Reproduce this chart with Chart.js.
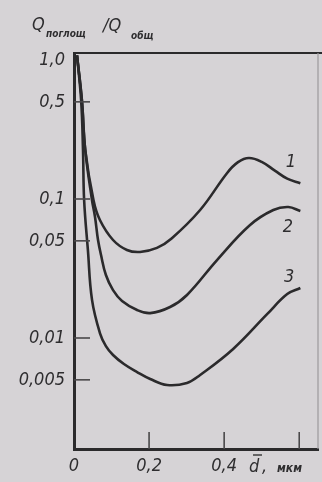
<!DOCTYPE html>
<html>
<head>
<meta charset="utf-8">
<script src="https://cdn.jsdelivr.net/npm/chart.js@4"></script>
<style>
  html, body { margin: 0; padding: 0; background: #d6d3d6; }
  #wrap { width: 322px; height: 482px; }
</style>
</head>
<body>
<div id="wrap"><canvas id="chart" width="322" height="482"></canvas></div>
<script>
// values (d in um, Q ratio on log axis)
const xTickValues = [0, 0.2, 0.4, 0.6];
const xTickLabels = ['0', '0,2', '0,4', ''];
const yTickValues = [0.005, 0.01, 0.05, 0.1, 0.5, 1.0];
const yTickLabels = ['0,005', '0,01', '0,05', '0,1', '0,5', '1,0'];

const curve1X = [0.008, 0.021, 0.03, 0.052, 0.069, 0.104, 0.141, 0.176, 0.221, 0.26, 0.336, 0.408, 0.437, 0.466, 0.50, 0.535, 0.568, 0.603];
const curve1Y = [1.08, 0.515, 0.225, 0.098, 0.0706, 0.0507, 0.043, 0.0416, 0.0445, 0.052, 0.0833, 0.154, 0.184, 0.197, 0.185, 0.160, 0.140, 0.130];

const curve2X = [0.008, 0.021, 0.03, 0.048, 0.056, 0.064, 0.072, 0.085, 0.104, 0.128, 0.168, 0.203, 0.256, 0.301, 0.381, 0.469, 0.531, 0.571, 0.603];
const curve2Y = [1.08, 0.515, 0.225, 0.098, 0.0743, 0.0507, 0.0395, 0.0284, 0.0221, 0.01845, 0.0159, 0.0151, 0.0167, 0.0204, 0.0364, 0.065, 0.0833, 0.0875, 0.082];

const curve3X = [0.008, 0.019, 0.024, 0.027, 0.037, 0.048, 0.069, 0.085, 0.104, 0.133, 0.168, 0.203, 0.248, 0.301, 0.336, 0.424, 0.515, 0.568, 0.603];
const curve3Y = [1.08, 0.515, 0.225, 0.098, 0.043, 0.0188, 0.01086, 0.00875, 0.00755, 0.0065, 0.00569, 0.00507, 0.00459, 0.00475, 0.00542, 0.00834, 0.0149, 0.0207, 0.0229];

const curveNames = ['1', '2', '3'];
const curveLabelX = [0.578, 0.570, 0.573];
const curveLabelY = [0.1845, 0.063, 0.0275];

const ink = '#2b2a2c';
const font = "'DejaVu Sans Condensed', 'DejaVu Sans', sans-serif";

const pts = (xs, ys) => xs.map((x, i) => ({ x: x, y: ys[i] }));
const line = (xs, ys) => ({
  data: pts(xs, ys), borderColor: ink, borderWidth: 2.6, pointRadius: 0,
  tension: 0.4, fill: false
});

const decor = {
  id: 'decor',
  afterDraw(chart) {
    const { ctx, chartArea: a, scales } = chart;
    ctx.save();
    // box top and faint right side
    ctx.strokeStyle = ink; ctx.lineWidth = 2;
    ctx.beginPath(); ctx.moveTo(a.left, a.top); ctx.lineTo(322, a.top); ctx.stroke();
    ctx.strokeStyle = '#9c999c'; ctx.lineWidth = 1.2;
    ctx.beginPath(); ctx.moveTo(a.right, a.top); ctx.lineTo(a.right, a.bottom); ctx.stroke();
    // inner ticks
    ctx.strokeStyle = '#4a484a'; ctx.lineWidth = 1.6;
    yTickValues.slice(0, 5).forEach(v => {
      const y = scales.y.getPixelForValue(v);
      ctx.beginPath(); ctx.moveTo(a.left, y); ctx.lineTo(a.left + 16, y); ctx.stroke();
    });
    xTickValues.slice(1).forEach(v => {
      const x = scales.x.getPixelForValue(v);
      ctx.beginPath(); ctx.moveTo(x, a.bottom); ctx.lineTo(x, a.bottom - 17); ctx.stroke();
    });
    // curve numbers
    ctx.fillStyle = '#2e2d2f';
    ctx.font = 'italic 18px ' + font;
    ctx.textAlign = 'center'; ctx.textBaseline = 'middle';
    curveNames.forEach((n, i) => {
      ctx.fillText(n, scales.x.getPixelForValue(curveLabelX[i]), scales.y.getPixelForValue(curveLabelY[i]));
    });
    // axis titles
    ctx.textAlign = 'left'; ctx.textBaseline = 'alphabetic';
    ctx.font = 'italic 18px ' + font;
    ctx.fillText('Q', 32, 30);
    ctx.fillText('/Q', 103, 31);
    ctx.font = 'italic bold 10px ' + font;
    ctx.fillText('поглощ', 46, 37);
    ctx.fillText('общ', 131, 39);
    ctx.font = 'italic 18px ' + font;
    ctx.fillText('d', 249, 472);
    ctx.fillText(',', 262, 472);
    ctx.lineWidth = 1.4; ctx.strokeStyle = '#333';
    ctx.beginPath(); ctx.moveTo(253, 455); ctx.lineTo(262, 455); ctx.stroke();
    ctx.font = 'italic bold 12px ' + font;
    ctx.fillText('мкм', 277, 472);
    ctx.restore();
  }
};

new Chart(document.getElementById('chart'), {
  type: 'line',
  data: { datasets: [line(curve1X, curve1Y), line(curve2X, curve2Y), line(curve3X, curve3Y)] },
  options: {
    responsive: false, animation: false,
    layout: { padding: { top: 53, right: 4, left: 0, bottom: 0 } },
    plugins: { legend: { display: false }, tooltip: { enabled: false } },
    scales: {
      x: {
        type: 'linear', min: 0, max: 0.65,
        afterBuildTicks: s => { s.ticks = xTickValues.map(v => ({ value: v })); },
        afterFit: s => { s.height = 33; },
        grid: { display: false, drawTicks: false },
        border: { display: true, color: ink, width: 3 },
        ticks: {
          padding: 7, color: '#2e2d2f', maxRotation: 0, autoSkip: false,
          font: { family: font, size: 18, style: 'italic' },
          callback: (v) => xTickLabels[xTickValues.indexOf(v)] ?? ''
        }
      },
      y: {
        type: 'logarithmic', min: 0.00159, max: 1.123,
        afterBuildTicks: s => { s.ticks = yTickValues.map(v => ({ value: v })); },
        afterFit: s => { s.width = 74; },
        grid: { display: false, drawTicks: false },
        border: { display: true, color: ink, width: 3 },
        ticks: {
          padding: 9, color: '#2e2d2f', autoSkip: false,
          font: { family: font, size: 18, style: 'italic' },
          callback: (v) => yTickLabels[yTickValues.indexOf(v)] ?? ''
        }
      }
    }
  },
  plugins: [decor]
});
</script>
</body>
</html>
